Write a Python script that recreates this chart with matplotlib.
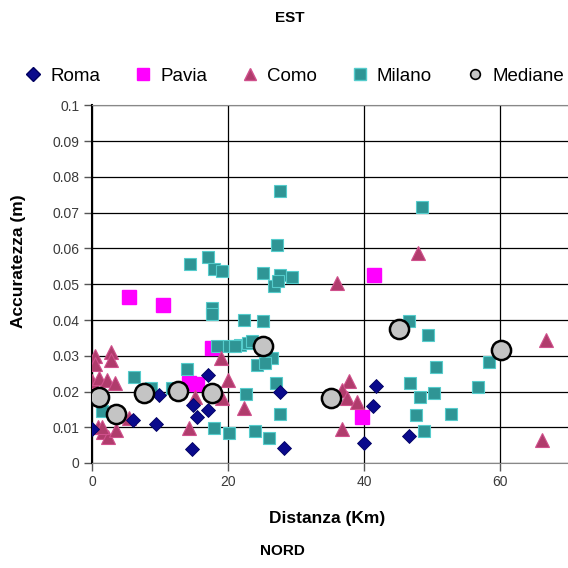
import matplotlib
matplotlib.use("Agg")
import matplotlib.pyplot as plt
from matplotlib.lines import Line2D

plt.rcParams['font.family'] = ['Liberation Sans', 'DejaVu Sans']

# ---- data ----
roma_x = [0.0, 6.1, 9.4, 9.9, 14.7, 14.9, 15.4, 17.0, 17.1, 27.6, 28.3, 40.0, 41.3, 41.8, 46.6]
roma_y = [0.0095, 0.012, 0.011, 0.019, 0.004, 0.0162, 0.0128, 0.0147, 0.0247, 0.020, 0.0041, 0.0057, 0.016, 0.0216, 0.0076]

pavia_x = [5.4, 10.4, 14.3, 15.4, 17.6, 39.7, 41.5]
pavia_y = [0.0464, 0.0443, 0.0225, 0.0221, 0.0323, 0.013, 0.0527]

como_x = [0.4, 0.4, 2.8, 2.8, 0.0, 1.0, 2.2, 3.4, 0.9, 1.6, 2.4, 3.6, 1.5, 5.5, 14.2, 15.1,
          19.0, 20.0, 19.1, 22.3, 36.0, 37.8, 36.8, 37.5, 39.0, 36.7, 48.0, 66.7, 66.2]
como_y = [0.0300, 0.0276, 0.0310, 0.0288, 0.0228, 0.0237, 0.0232, 0.0224, 0.0102, 0.0088, 0.0074,
          0.0092, 0.0100, 0.0127, 0.0098, 0.0186, 0.0293, 0.0232, 0.0181, 0.0155, 0.0503, 0.0228,
          0.0204, 0.0181, 0.0172, 0.0094, 0.0587, 0.0345, 0.0065]

milano_x = [1.5, 6.2, 8.7, 11.8, 13.9, 14.4, 17.0, 17.9, 19.1, 17.6, 17.6, 18.4, 20.1, 21.8, 23.0,
            18.0, 20.2, 22.7, 27.7, 27.2, 25.1, 27.7, 29.4, 26.7, 27.4, 22.3, 25.1, 21.1, 23.5,
            26.4, 24.2, 25.5, 27.0, 27.7, 23.9, 26.0, 46.6, 49.4, 50.6, 58.4, 46.7, 48.2, 50.3,
            56.7, 47.6, 52.8, 48.8, 48.6]
milano_y = [0.0145, 0.0241, 0.0209, 0.0210, 0.0262, 0.0557, 0.0576, 0.0543, 0.0536, 0.0433, 0.0418,
            0.0326, 0.0326, 0.0330, 0.0335, 0.0097, 0.0085, 0.0193, 0.0760, 0.0611, 0.0531, 0.0527,
            0.0520, 0.0494, 0.0508, 0.0400, 0.0396, 0.0326, 0.0340, 0.0295, 0.0273, 0.0280, 0.0223,
            0.0138, 0.0090, 0.0069, 0.0396, 0.0359, 0.0268, 0.0282, 0.0225, 0.0186, 0.0195, 0.0212,
            0.0133, 0.0137, 0.0090, 0.0716]

mediane_x = [1.0, 3.5, 7.6, 12.7, 17.6, 25.1, 35.1, 45.1, 60.1]
mediane_y = [0.0184, 0.0137, 0.0197, 0.0202, 0.0197, 0.0326, 0.0183, 0.0375, 0.0315]

x_ticks = [0, 20, 40, 60]
y_ticks = [0, 0.01, 0.02, 0.03, 0.04, 0.05, 0.06, 0.07, 0.08, 0.09, 0.1]
y_tick_labels = ["0", "0.01", "0.02", "0.03", "0.04", "0.05", "0.06", "0.07", "0.08", "0.09", "0.1"]

# ---- styles ----
c_roma = '#0a0a8c'
c_pavia = '#ff00ff'
c_como = '#b03c6c'
c_como_edge = '#d0508c'
c_milano = '#2f9595'
c_milano_edge = '#55cccc'
c_med = '#c4c4c4'

fig = plt.figure(figsize=(5.68, 5.68), dpi=100)
ax = fig.add_axes([92/568, 105/568, (568-92)/568, (463-105.5)/568])

ax.set_xlim(0, 70)
ax.set_ylim(0, 0.1)
ax.set_xticks(x_ticks)
ax.set_yticks(y_ticks)
ax.set_yticklabels(y_tick_labels)
ax.tick_params(axis='both', labelsize=10, labelcolor='#3a3a3a', length=6, width=1, pad=3, color='#555555')
ax.grid(True, color='black', linewidth=0.9)
ax.set_axisbelow(True)
ax.spines['right'].set_visible(False)
ax.spines['top'].set_color('#888888')
ax.spines['bottom'].set_color('#888888')
ax.spines['left'].set_color('black')
ax.spines['left'].set_linewidth(1.5)

ax.plot(pavia_x, pavia_y, ls='none', marker='s', ms=9.6, mfc=c_pavia, mec=c_pavia, zorder=3)
ax.plot(milano_x, milano_y, ls='none', marker='s', ms=9.2, mfc=c_milano, mec=c_milano_edge, mew=0.8, zorder=4)
ax.plot(como_x, como_y, ls='none', marker='^', ms=9.8, mfc=c_como, mec=c_como_edge, mew=0.8, zorder=5)
ax.plot(roma_x, roma_y, ls='none', marker='D', ms=7.4, mfc=c_roma, mec='#000060', mew=0.6, zorder=6)
ax.plot(mediane_x, mediane_y, ls='none', marker='o', ms=13.8, mfc=c_med, mec='black', mew=1.8, zorder=7)

handles = [
    Line2D([], [], ls='none', marker='D', ms=7, mfc=c_roma, mec='#000060'),
    Line2D([], [], ls='none', marker='s', ms=9, mfc=c_pavia, mec=c_pavia),
    Line2D([], [], ls='none', marker='^', ms=9, mfc=c_como, mec=c_como_edge),
    Line2D([], [], ls='none', marker='s', ms=8, mfc=c_milano, mec=c_milano_edge),
    Line2D([], [], ls='none', marker='o', ms=7, mfc=c_med, mec='black', mew=1.2),
]
labels = ['Roma', 'Pavia', 'Como', 'Milano', 'Mediane']
fig.legend(handles, labels, loc='center', bbox_to_anchor=(0.519, 1 - 76/568), ncol=5,
           frameon=False, fontsize=13.5, handlelength=0.8, handletextpad=0.5,
           columnspacing=1.9, borderaxespad=0, borderpad=0)

fig.text(290/568, 1 - 18/568, 'EST', ha='center', va='center', fontsize=11, fontweight='bold')
fig.text(282/568, 1 - 551/568, 'NORD', ha='center', va='center', fontsize=11, fontweight='bold')
fig.text(19/568, 1 - 261/568, 'Accuratezza (m)', ha='center', va='center', rotation=90,
         fontsize=12.5, fontweight='bold')
fig.text(327/568, 1 - 518/568, 'Distanza (Km)', ha='center', va='center', fontsize=12.5, fontweight='bold')

fig.savefig('out.png', dpi=100, facecolor='white')
